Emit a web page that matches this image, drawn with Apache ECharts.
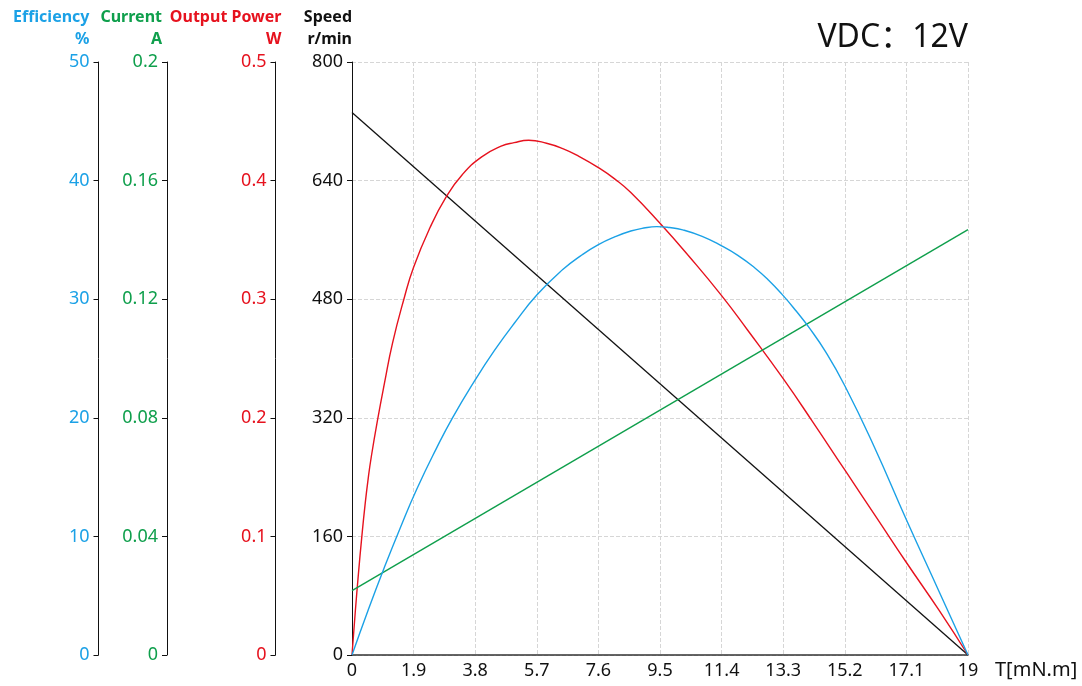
<!DOCTYPE html>
<html><head><meta charset="utf-8">
<script src="https://cdn.jsdelivr.net/npm/echarts@6/dist/echarts.min.js"></script>
<style>html,body{margin:0;padding:0;background:#fff}#c{width:1082px;height:686px}</style>
</head><body><div id="c"></div>
<script>
// Output power curve: torque (mN.m) and power (W)
const powerTorque = [0, 0.1, 0.2, 0.3, 0.4, 0.5, 0.6, 0.8, 1.0, 1.25, 1.6, 1.9, 2.4, 2.9, 3.4, 4.0, 4.6, 5.0, 5.45, 6.0, 6.5, 7.0, 7.6, 8.1, 8.6, 9.5, 10.4, 11.4, 12.2, 13.3, 14.2, 15.2, 16.2, 17.1, 18.1, 19];
const outputPower = [0, 0.036, 0.069, 0.099, 0.126, 0.149, 0.168, 0.200, 0.229, 0.263, 0.300, 0.327, 0.360, 0.386, 0.405, 0.420, 0.429, 0.432, 0.434, 0.4315, 0.427, 0.4205, 0.411, 0.4015, 0.390, 0.364, 0.336, 0.303, 0.274, 0.233, 0.197, 0.156, 0.115, 0.078, 0.038, 0];
// Efficiency curve: torque (mN.m) and efficiency (%)
const effTorque = [0, 0.5, 1.0, 1.5, 2.0, 2.6, 3.1, 3.8, 4.4, 5.0, 5.7, 6.5, 7.1, 7.6, 8.1, 8.6, 9.0, 9.4, 9.8, 10.2, 10.8, 11.4, 11.9, 12.4, 12.85, 13.3, 13.7, 14.1, 14.6, 15.2, 16.1, 17.1, 18.1, 19];
const efficiency = [0, 3.8, 7.4, 10.8, 14.0, 17.4, 20.0, 23.2, 25.7, 27.95, 30.35, 32.5, 33.75, 34.6, 35.25, 35.75, 36.0, 36.12, 36.04, 35.85, 35.3, 34.5, 33.7, 32.7, 31.6, 30.3, 29.0, 27.6, 25.6, 22.7, 17.6, 11.4, 5.4, 0];
// Speed (r/min), straight line
const speedTorque = [0, 19];
const speed = [732, 0];
// Current (A), straight line
const currentTorque = [0, 19];
const current = [0.0217, 0.1435];

const BLUE = '#1ba1e6', GREEN = '#0f9f4c', RED = '#e6121e', BLACK = '#111';
const FONT = "'Noto Sans', 'Noto Sans CJK SC', sans-serif";

function pairs(xs, ys) { return xs.map((x, i) => [x, ys[i]]); }
function fmt(v) { return String(+v.toFixed(2)); }

function yAx(opts) {
  return Object.assign({
    type: 'value', position: 'left',
    axisLine: { show: true, lineStyle: { color: BLACK, width: 1 } },
    axisTick: { show: true, length: 5, lineStyle: { color: BLACK } },
    splitLine: { show: false },
    nameLocation: 'end', nameGap: 12
  }, opts);
}

const chart = echarts.init(document.getElementById('c'), null, { renderer: 'canvas' });
chart.setOption({
  animation: false,
  textStyle: { fontFamily: FONT },
  title: {
    text: 'VDC：12V', right: 109, top: 17,
    textStyle: { fontFamily: FONT, fontSize: 32, fontWeight: 'normal', color: BLACK }
  },
  grid: { left: 352, right: 114, top: 62, bottom: 31, containLabel: false },
  xAxis: {
    type: 'value', min: 0, max: 19, interval: 1.9,
    name: 'T[mN.m]', nameLocation: 'end', nameGap: 27,
    nameTextStyle: { fontSize: 20, color: BLACK, verticalAlign: 'top', padding: [5, 0, 0, 0] },
    axisLine: { show: true, lineStyle: { color: '#333', width: 1.5 } },
    axisTick: { show: false },
    axisLabel: { fontSize: 18, color: BLACK, margin: 7, formatter: fmt },
    splitLine: { show: true, lineStyle: { type: 'dashed', color: '#d6d6d6' } }
  },
  yAxis: [
    yAx({ name: 'Speed\nr/min', min: 0, max: 800, interval: 160, offset: 0,
      nameTextStyle: { color: BLACK, fontSize: 16, fontWeight: 'bold', align: 'right', verticalAlign: 'bottom', lineHeight: 22, padding: [0, 0, 0, 0] },
      axisLabel: { color: BLACK, fontSize: 18, margin: 9, formatter: fmt },
      splitLine: { show: true, lineStyle: { type: 'dashed', color: '#d6d6d6' } } }),
    yAx({ name: 'Output Power\nW', min: 0, max: 0.5, interval: 0.1, offset: 76.5,
      nameTextStyle: { color: RED, fontSize: 16, fontWeight: 'bold', align: 'right', verticalAlign: 'bottom', lineHeight: 22, padding: [0, -6, 0, 0] },
      axisLabel: { color: RED, fontSize: 18, margin: 9, formatter: fmt } }),
    yAx({ name: 'Current\nA', min: 0, max: 0.2, interval: 0.04, offset: 185,
      nameTextStyle: { color: GREEN, fontSize: 16, fontWeight: 'bold', align: 'right', verticalAlign: 'bottom', lineHeight: 22, padding: [0, 5, 0, 0] },
      axisLabel: { color: GREEN, fontSize: 18, margin: 9, formatter: fmt } }),
    yAx({ name: 'Efficiency\n%', min: 0, max: 50, interval: 10, offset: 253.5,
      nameTextStyle: { color: BLUE, fontSize: 16, fontWeight: 'bold', align: 'right', verticalAlign: 'bottom', lineHeight: 22, padding: [0, 9, 0, 0] },
      axisLabel: { color: BLUE, fontSize: 18, margin: 9, formatter: fmt } })
  ],
  series: [
    { name: 'Speed', type: 'line', yAxisIndex: 0, data: pairs(speedTorque, speed), symbol: 'none',
      lineStyle: { color: BLACK, width: 1.3 } },
    { name: 'Output Power', type: 'line', yAxisIndex: 1, data: pairs(powerTorque, outputPower), symbol: 'none',
      smooth: true, lineStyle: { color: RED, width: 1.4 } },
    { name: 'Current', type: 'line', yAxisIndex: 2, data: pairs(currentTorque, current), symbol: 'none',
      lineStyle: { color: GREEN, width: 1.4 } },
    { name: 'Efficiency', type: 'line', yAxisIndex: 3, data: pairs(effTorque, efficiency), symbol: 'none',
      smooth: true, lineStyle: { color: BLUE, width: 1.4 } }
  ]
});
</script>
</body></html>
